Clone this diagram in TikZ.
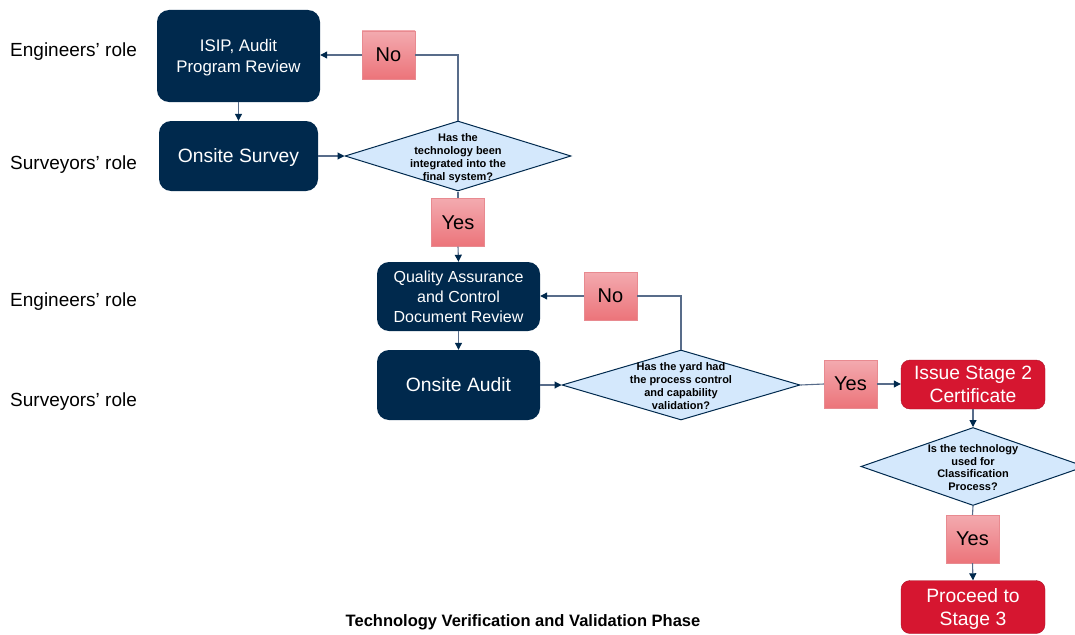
\documentclass[tikz,border=0pt]{standalone}
\usepackage{fontspec}
\setmainfont{Liberation Sans}
\usetikzlibrary{arrows.meta, shapes.geometric}

\definecolor{navybox}{RGB}{0,41,77}
\definecolor{redbox}{RGB}{214,22,48}
\definecolor{pinktop}{RGB}{243,170,175}
\definecolor{pinkbot}{RGB}{236,116,122}
\definecolor{pinkline}{RGB}{232,138,144}
\definecolor{qfill}{RGB}{212,232,252}
\definecolor{linkgray}{RGB}{88,108,138}

\tikzset{
  task/.style={rectangle, rounded corners=12pt, fill=navybox, text=white,
    align=center, inner sep=0pt, text depth=0pt},
  stagebox/.style={rectangle, rounded corners=9pt, fill=redbox, draw=redbox!80!black,
    text=white, align=center, inner sep=0pt, minimum width=144pt, text depth=0pt,
    font=\fontsize{19.3}{23}\selectfont},
  decision/.style={diamond, draw=navybox, fill=qfill, line width=1pt, inner sep=0pt},
  qtext/.style={align=center, font=\bfseries\fontsize{11}{12.8}\selectfont},
  answer/.style={rectangle, top color=pinktop, bottom color=pinkbot, draw=pinkline,
    minimum width=53pt, minimum height=48pt, inner sep=0pt, text depth=0pt,
    font=\fontsize{20}{24}\selectfont},
  role/.style={anchor=west, inner sep=0pt, text depth=0pt,
    font=\fontsize{19}{22}\selectfont},
  link/.style={draw=linkgray, line width=1.1pt,
    -{Triangle[length=7pt,width=7pt,color=navybox]}},
  plain/.style={draw=linkgray, line width=1.1pt}
}

\begin{document}
\begin{tikzpicture}[x=1pt, y=-1pt]
\useasboundingbox (0,0) rectangle (1075,634);

% roles
\node[role] (eng1) at (10,50) {Engineers’ role};
\node[role] (sur1) at (10,163) {Surveyors’ role};
\node[role] (eng2) at (10,300) {Engineers’ role};
\node[role] (sur2) at (10,400) {Surveyors’ role};

% first phase
\node[task, minimum width=163pt, minimum height=92pt, font=\fontsize{16.8}{21}\selectfont]
  (isip) at (238.5,56) {ISIP, Audit\\Program Review};
\node[task, minimum width=159pt, minimum height=70pt, font=\fontsize{19.3}{23}\selectfont]
  (survey) at (238.5,156) {Onsite Survey};
\node[decision, minimum width=226pt, minimum height=70pt,
  label={[qtext, yshift=-2pt]center:Has the\\technology been\\integrated into the\\final system?}]
  (q1) at (458,156) {};
\node[answer] (no1) at (388.5,55) {No};
\node[answer] (yes1) at (458,222.5) {Yes};

% second phase
\node[task, minimum width=163pt, minimum height=69pt, font=\fontsize{16}{20}\selectfont]
  (qa) at (458.5,296.5) {Quality Assurance\\and Control\\Document Review};
\node[task, minimum width=163pt, minimum height=70pt, font=\fontsize{19.3}{23}\selectfont]
  (audit) at (458.5,385) {Onsite Audit};
\node[decision, minimum width=238pt, minimum height=70pt,
  label={[qtext, yshift=-1pt]center:Has the yard had\\the process control\\and capability\\validation?}]
  (q2) at (681,385) {};
\node[answer] (no2) at (610.5,296) {No};
\node[answer] (yes3) at (850.5,384) {Yes};

% stages
\node[stagebox, minimum height=49pt] (issue) at (973,384.5) {Issue Stage 2\\Certificate};
\node[decision, minimum width=224pt, minimum height=78pt,
  label={[qtext, yshift=-1pt]center:Is the technology\\used for\\Classification\\Process?}]
  (q3) at (973,466.5) {};
\node[answer] (yes4) at (972.5,539) {Yes};
\node[stagebox, minimum height=53pt] (proceed) at (973,607) {Proceed to\\Stage 3};

\node[text depth=0pt, font=\bfseries\fontsize{16.5}{20}\selectfont] (title) at (523,621)
  {Technology Verification and Validation Phase};

% connectors
\draw[link] (isip) -- (survey);
\draw[link] (survey) -- (q1);
\draw[plain] (q1.north) |- (no1.east);
\draw[link] (no1.west) -- (isip.east |- no1.west);
\draw[plain] (q1.south) -- (yes1.north);
\draw[link] (yes1.south) -- (qa.north);
\draw[link] (qa) -- (audit);
\draw[link] (audit) -- (q2);
\draw[plain] (q2.north) |- (no2.east);
\draw[link] (no2.west) -- (qa.east |- no2.west);
\draw[plain] (q2.east) -- (yes3.west);
\draw[link] (yes3.east) -- (issue.west |- yes3.east);
\draw[link] (issue) -- (q3);
\draw[plain] (q3.south) -- (yes4.north);
\draw[link] (yes4.south) -- (proceed.north);
\end{tikzpicture}
\end{document}
